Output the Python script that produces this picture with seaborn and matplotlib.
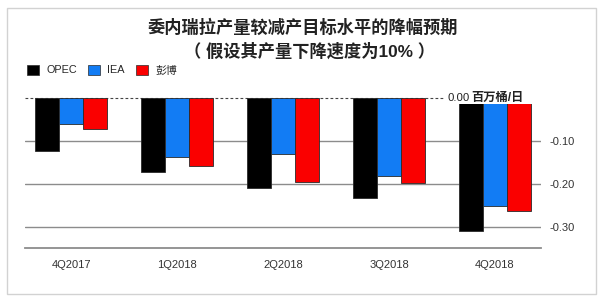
import numpy as np
import pandas as pd
import matplotlib
matplotlib.use("Agg")
import matplotlib.pyplot as plt
from matplotlib.patches import Patch, Rectangle
import seaborn as sns

# ---- data ----
quarters = ["4Q2017", "1Q2018", "2Q2018", "3Q2018", "4Q2018"]
sources = ["OPEC", "IEA", "彭博"]
opec = [-0.125, -0.174, -0.209, -0.233, -0.311]
iea = [-0.060, -0.139, -0.130, -0.182, -0.251]
bloomberg = [-0.072, -0.158, -0.197, -0.198, -0.263]
yticks = [-0.10, -0.20, -0.30]
ytick_labels = ["-0.10", "-0.20", "-0.30"]
title1 = "委内瑞拉产量较减产目标水平的降幅预期"
title2 = "（ 假设其产量下降速度为10% ）"
zero_label = "0.00"
unit_label = "百万桶/日"

colors = ["#000000", "#127cf4", "#fa0000"]

df = pd.DataFrame({
    "quarter": quarters * 3,
    "value": opec + iea + bloomberg,
    "source": [sources[0]] * 5 + [sources[1]] * 5 + [sources[2]] * 5,
})

sns.set_style("white")
plt.rcParams["font.family"] = ["Liberation Sans", "Noto Sans CJK SC", "DejaVu Sans"]

W, H = 614, 304
fig = plt.figure(figsize=(W / 100, H / 100), dpi=100)

def fx(px):
    return px / W

def fy(py):
    return 1 - py / H

ax_left, ax_right, ax_top, ax_bottom = 25, 541, 92, 248
ax = fig.add_axes([fx(ax_left), fy(ax_bottom), fx(ax_right - ax_left), (ax_bottom - ax_top) / H])

sns.barplot(data=df, x="quarter", y="value", hue="source", palette=colors,
            saturation=1, width=0.68, edgecolor="#2a2a2a", linewidth=0.6, ax=ax,
            legend=False, zorder=3)

ax.set_xlim(-0.434, 4.434)
ax.set_ylim(-0.35, 0.0136)

# grid lines
for yv in yticks:
    ax.axhline(yv, color="#8c8c8c", lw=1.0, zorder=1)
ax.axhline(0, color="#444444", lw=0.8, ls=(0, (2.5, 2)), zorder=1)

ax.set_xlabel("")
ax.set_ylabel("")
for s in ["left", "top", "right"]:
    ax.spines[s].set_visible(False)
ax.spines["bottom"].set_color("#8c8c8c")
ax.spines["bottom"].set_linewidth(1.3)

ax.yaxis.tick_right()
ax.set_yticks(yticks)
ax.set_yticklabels(ytick_labels)
ax.tick_params(axis="y", length=0, pad=6, labelsize=8, labelcolor="#333333")
ax.tick_params(axis="x", length=4, width=0.8, color="#8c8c8c", pad=5,
               labelsize=8, labelcolor="#333333", direction="out")

# white patch behind the zero label (covers line and bar tops)
def axx(px):
    return (px - ax_left) / (ax_right - ax_left)

def axy(py):
    return (ax_bottom - py) / (ax_bottom - ax_top)

ax.add_patch(Rectangle((axx(444), axy(104.5)), axx(545) - axx(444), axy(89) - axy(104.5),
                       transform=ax.transAxes, facecolor="white", edgecolor="none",
                       zorder=4, clip_on=False))
tr = ax.get_yaxis_transform()
ax.text(axx(447), 0, zero_label, transform=tr, ha="left", va="center",
        fontsize=8.2, color="#222222", zorder=5)
ax.text(axx(471), 0, unit_label, transform=tr, ha="left", va="center",
        fontsize=8.8, fontweight="bold", color="#222222", zorder=5)

# titles
fig.text(fx(303), fy(27), title1, ha="center", va="center", fontsize=12.4,
         fontweight="bold", color="#222222")
fig.text(fx(309), fy(51), title2, ha="center", va="center", fontsize=12.4,
         fontweight="bold", color="#222222")

# legend
handles = [Patch(facecolor=c, edgecolor="#2a2a2a", linewidth=0.5) for c in colors]
fig.legend(handles, sources, loc="center left", bbox_to_anchor=(fx(27), fy(70)),
           ncol=3, frameon=False, fontsize=7.8, handlelength=1.1, handleheight=1.1,
           handletextpad=0.7, columnspacing=1.0, borderpad=0, borderaxespad=0)

# outer frame
fig.patches.append(Rectangle((fx(7), fy(294)), fx(596 - 7), (294 - 8) / H,
                             transform=fig.transFigure, fill=False,
                             edgecolor="#d2d2d2", lw=1.0))

fig.savefig("out.png", dpi=100)
